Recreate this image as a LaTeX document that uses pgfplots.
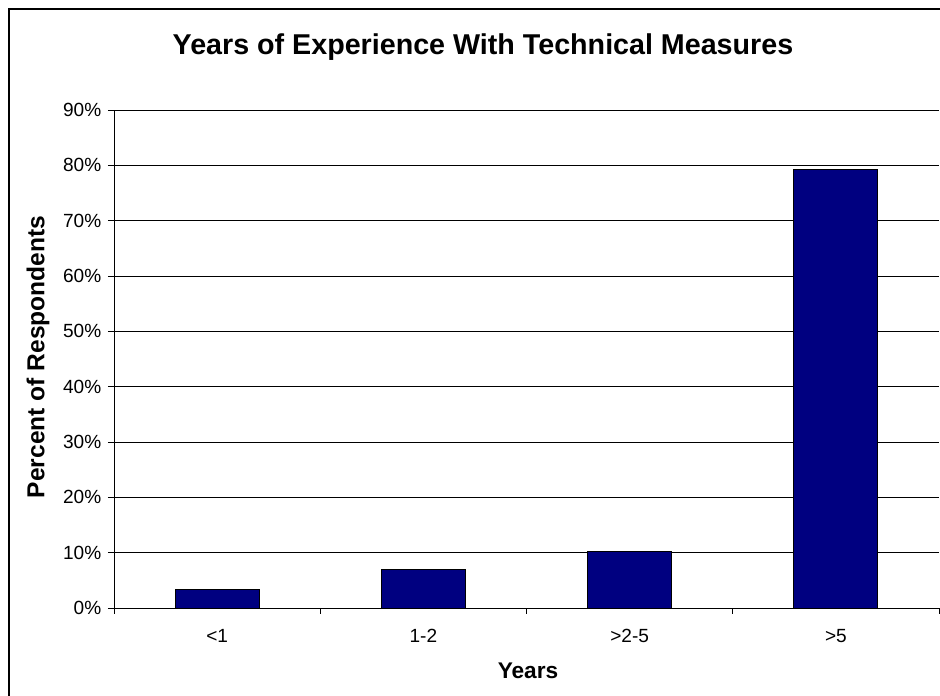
\documentclass[border=0pt]{standalone}
\usepackage{fontspec}
\setmainfont{Liberation Sans}
\usepackage{pgfplots}
\pgfplotsset{compat=1.18}
\definecolor{barnavy}{HTML}{000080}

\begin{document}
\begin{tikzpicture}
  % page is 940 x 696 px = 705 x 522 pt
  \clip (0,0) rectangle (705pt,522pt);
  \path[use as bounding box] (0,0) rectangle (705pt,522pt);
  \fill[white] (0,0) rectangle (705pt,522pt);
  \draw[black, line width=0.9pt] (6.75pt,-10pt) -- (6.75pt,515.25pt) -- (720pt,515.25pt);

  \begin{axis}[
    at={(85.5pt,66pt)}, anchor=south west,
    scale only axis,
    width=618.75pt, height=373.5pt,
    /pgf/number format/assume math mode=true,
    ybar, bar width=63pt,
    xmin=-0.5, xmax=3.5,
    ymin=0, ymax=90,
    axis x line*=bottom, axis y line*=left,
    axis line style={black, line width=0.7pt},
    tick align=outside,
    major tick length=4.5pt,
    xtick={-0.5,0.5,1.5,2.5,3.5}, xticklabels={},
    extra x ticks={0,1,2,3},
    extra x tick labels={<1,1-2,>2-5,>5},
    extra x tick style={major tick length=0pt},
    ytick={0,10,...,90},
    yticklabel={\pgfmathprintnumber{\tick}\%},
    ymajorgrids,
    grid style={black, line width=0.7pt},
    tick style={black, line width=0.7pt},
    ticklabel style={font=\fontsize{14.3}{16}\selectfont},
    xticklabel style={anchor=center, yshift=-21pt},
    yticklabel style={anchor=east, xshift=-1.5pt},
  ]
    \addplot[fill=barnavy, draw=black, line width=0.6pt]
      coordinates {(0,3.4) (1,6.9) (2,10.3) (3,79.3)};
  \end{axis}

  \node[font=\bfseries\fontsize{21.5}{25}\selectfont] at (362.25pt,486.75pt) {Years of Experience With Technical Measures};
  \node[font=\bfseries\fontsize{17}{20}\selectfont] at (396pt,18.75pt) {Years};
  \node[font=\bfseries\fontsize{18.4}{21}\selectfont, rotate=90] at (28.5pt,254.25pt) {Percent of Respondents};
\end{tikzpicture}
\end{document}
